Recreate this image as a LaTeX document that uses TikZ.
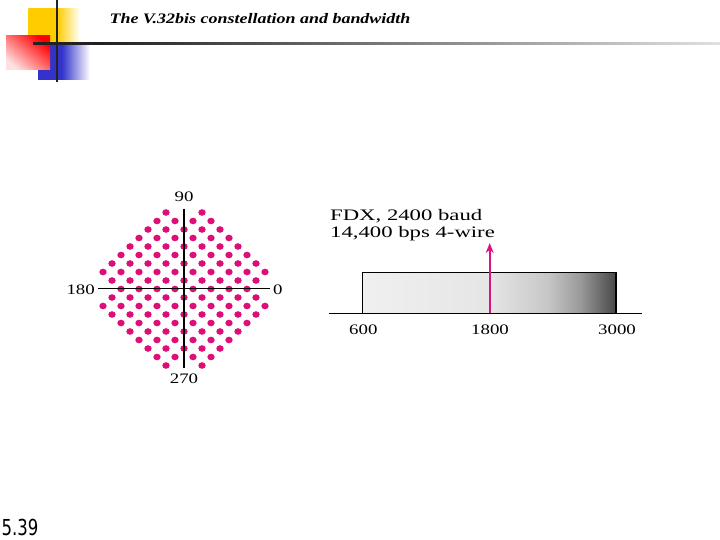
\documentclass[tikz,border=0pt]{standalone}
\usepackage{fontspec}
\setmainfont{Liberation Serif}
\newfontfamily\figfont[FakeStretch=1.3]{Liberation Serif}
\newfontfamily\bodyfont[FakeStretch=1.42]{Liberation Serif}
\newfontfamily\headfont[FakeStretch=1.24]{Liberation Serif}
\newfontfamily\pagefont[FakeStretch=0.75]{DejaVu Sans}
\usetikzlibrary{arrows.meta}
\definecolor{dotc}{RGB}{222,14,120}
\definecolor{arrc}{RGB}{220,20,130}
\definecolor{logoY}{RGB}{255,204,0}
\definecolor{logoR}{RGB}{255,0,0}
\definecolor{logoB}{RGB}{51,51,204}
\definecolor{linec}{RGB}{34,34,34}
\pgfdeclarehorizontalshading{bandshade}{100bp}{color(0bp)=(black!6); color(25bp)=(black!6); color(50bp)=(black!10); color(61.5bp)=(black!22); color(68bp)=(black!40); color(75bp)=(black!72); color(100bp)=(black!72)}
\pgfdeclarehorizontalshading{yelshade}{100bp}{color(0bp)=(logoY); color(25bp)=(logoY); color(53bp)=(logoY); color(75bp)=(white); color(100bp)=(white)}
\pgfdeclarehorizontalshading{blushade}{100bp}{color(0bp)=(logoB); color(25bp)=(logoB); color(48bp)=(logoB); color(75bp)=(white); color(100bp)=(white)}
\pgfdeclarehorizontalshading{rulshade}{100bp}{color(0bp)=(linec); color(25bp)=(linec); color(30bp)=(linec); color(75bp)=(black!12); color(100bp)=(black!12)}
\tikzset{
  lbl/.style={font=\figfont\fontsize{14.5}{17}\selectfont, inner sep=0pt},
  bodytext/.style={font=\bodyfont\fontsize{16}{19}\selectfont, inner sep=0pt, anchor=base west},
  axisline/.style={line width=1.6pt, black},
  dotmark/.style={fill=dotc},
}
\begin{document}
\begin{tikzpicture}[x=1pt,y=-1pt]
\useasboundingbox (0,0) rectangle (720,540);
\fill[white] (0,0) rectangle (720,540);
% logo
\shade[shading=yelshade] (28.3,8.3) rectangle (80,41.7);
\shade[shading=blushade] (38,43) rectangle (90,80);
\shade[shading=axis, top color=logoR, bottom color=logoR!12, shading angle=-40] (6,36) rectangle (50,70);
\shade[shading=rulshade] (33,42.3) rectangle (720,44.3);
\draw[line width=2pt, linec] (57.3,0) -- (57.3,82);
% title
\node[font=\headfont\bfseries\itshape\fontsize{14.5}{17}\selectfont, inner sep=0pt, anchor=base] (title) at (260,23.5) {The V.32bis constellation and bandwidth};
% constellation
\foreach \i in {-9,...,9}{
  \foreach \j in {-9,...,9}{
    \pgfmathtruncatemacro{\ai}{abs(\i)}
    \pgfmathtruncatemacro{\aj}{abs(\j)}
    \pgfmathtruncatemacro{\ok}{and(and(mod(\ai+\aj,2)==1, \ai+\aj<=11), abs(\ai-\aj)<=7)}
    \ifnum\ok=1
      \fill[dotmark] (184+9*\i, 289-8.5*\j) ellipse [x radius=3.7, y radius=3.3];
    \fi
  }
}
\coordinate (hl) at (98,288.5);
\coordinate (hr) at (270,288.5);
\coordinate (vt) at (184,209);
\coordinate (vb) at (184,368);
\draw[axisline] (hl) -- (hr);
\draw[axisline] (vt) -- (vb);
\node[lbl] (l90) at (184,197) {90};
\node[lbl] (l270) at (184,378.5) {270};
\node[lbl, anchor=east] (l180) at (95,289.5) {180};
\node[lbl, anchor=west] (l0) at (273,289.5) {0};
% bandwidth
\node[bodytext] (t1) at (330,221) {FDX, 2400 baud};
\node[bodytext] (t2) at (330,237.7) {14,400 bps 4-wire};
\shade[shading=bandshade, draw=black, line width=1.2pt] (362.7,272.3) rectangle (616,313.3);
\coordinate (bl) at (329,313.3);
\coordinate (br) at (641.7,313.3);
\draw[line width=1.2pt, black] (bl) -- (br);
\coordinate (afoot) at (489.7,313.3);
\coordinate (atip) at (489.7,243);
\draw[arrc, line width=1.6pt, -{Stealth[length=10pt, width=8pt]}] (afoot) -- (atip);
\node[lbl] (f600) at (363.3,329.5) {600};
\node[lbl] (f1800) at (490,329.5) {1800};
\node[lbl] (f3000) at (617,329.5) {3000};
% page number
\node[font=\pagefont\fontsize{22}{24}\selectfont, inner sep=0pt, anchor=base west] (pnum) at (1.5,535.5) {5.39};
\end{tikzpicture}
\end{document}
